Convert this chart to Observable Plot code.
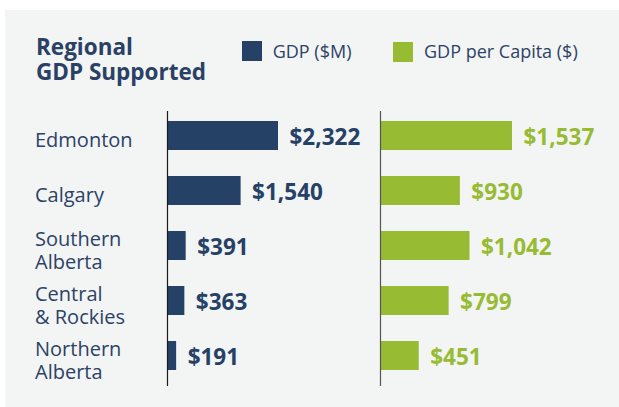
<!DOCTYPE html>
<html>
<head>
<meta charset="utf-8">
<script src="https://cdn.jsdelivr.net/npm/d3@7"></script>
<script src="https://cdn.jsdelivr.net/npm/@observablehq/plot@0.6"></script>
<style>
  html, body { margin: 0; padding: 0; background: #ffffff; }
  body { width: 619px; height: 407px; position: relative; overflow: hidden; font-family: "Open Sans", sans-serif; }
  #panel { position: absolute; left: 5px; top: 10px; width: 614px; height: 397px; background: #f3f4f4; }
  #title { position: absolute; left: 36px; top: 34px; font-size: 22.5px; line-height: 25px; font-weight: 700; color: #2a4165; white-space: nowrap; }
  .sw { position: absolute; width: 20px; height: 20px; }
  .lt { position: absolute; font-size: 18px; line-height: 20px; font-weight: 500; color: #2c4266; white-space: nowrap; }
  .plot { position: absolute; top: 100px; }
  .plot svg { overflow: visible; }
</style>
</head>
<body>
<div id="panel"></div>
<div id="title">Regional<br>GDP Supported</div>
<div id="legend"></div>
<div id="left" class="plot" style="left:0px"></div>
<div id="right" class="plot" style="left:330px"></div>
<script>
const regions = ["Edmonton", "Calgary", "Southern Alberta", "Central & Rockies", "Northern Alberta"];
const regionLabels = ["Edmonton", "Calgary", "Southern\nAlberta", "Central\n& Rockies", "Northern\nAlberta"];
const gdpMillions = [2322, 1540, 391, 363, 191];
const gdpPerCapita = [1537, 930, 1042, 799, 451];
const seriesNames = ["GDP ($M)", "GDP per Capita ($)"];
const seriesColors = ["#264166", "#98bb34"];

const navy = seriesColors[0], green = seriesColors[1];
const textNavy = "#2c4266";
const fmt = v => "$" + d3.format(",")(v);

const data = regions.map((r, i) => ({region: r, label: regionLabels[i], gdp: gdpMillions[i], pc: gdpPerCapita[i]}));

// Legend (HTML)
const legend = document.getElementById("legend");
const swLeft = [242, 392.7], txtLeft = [272.7, 424];
seriesNames.forEach((name, i) => {
  const s = document.createElement("div");
  s.className = "sw";
  s.style.left = swLeft[i] + "px";
  s.style.top = (41 + i) + "px";
  s.style.background = seriesColors[i];
  legend.appendChild(s);
  const t = document.createElement("div");
  t.className = "lt";
  t.style.left = txtLeft[i] + "px";
  t.style.top = "41px";
  t.textContent = name;
  legend.appendChild(t);
});

const yScale = {domain: regions, paddingInner: 0.464, paddingOuter: 0.1875, align: 0.38};
const common = {
  height: 300,
  marginTop: 11,
  marginBottom: 14,
  style: {fontFamily: "Open Sans", background: "transparent", overflow: "visible"}
};

const left = Plot.plot({
  ...common,
  width: 330,
  marginLeft: 167,
  marginRight: 52,
  x: {domain: [0, d3.max(gdpMillions)], axis: null},
  y: {...yScale, axis: null},
  marks: [
    Plot.barX(data, {x: "gdp", y: "region", fill: navy}),
    Plot.ruleX([0], {stroke: "#1a1a1a", strokeWidth: 1.2}),
    Plot.text(data, {y: "region", text: "label", frameAnchor: "left", dx: -132.5, dy: 4,
      textAnchor: "start", lineAnchor: "middle", lineHeight: 1.15, fontSize: 20, fontWeight: 500, fill: textNavy}),
    Plot.text(data, {x: "gdp", y: "region", text: d => fmt(d.gdp), dx: 11, dy: 2,
      textAnchor: "start", fontSize: 22.5, fontWeight: 700, fill: navy})
  ]
});
document.getElementById("left").appendChild(left);

const right = Plot.plot({
  ...common,
  width: 289,
  marginLeft: 50,
  marginRight: 107,
  x: {domain: [0, d3.max(gdpPerCapita)], axis: null},
  y: {...yScale, axis: null},
  marks: [
    Plot.barX(data, {x: "pc", y: "region", fill: green}),
    Plot.ruleX([0], {stroke: "#555555", strokeWidth: 1.2}),
    Plot.text(data, {x: "pc", y: "region", text: d => fmt(d.pc), dx: 11, dy: 2,
      textAnchor: "start", fontSize: 22.5, fontWeight: 700, fill: green})
  ]
});
document.getElementById("right").appendChild(right);
</script>
</body>
</html>
